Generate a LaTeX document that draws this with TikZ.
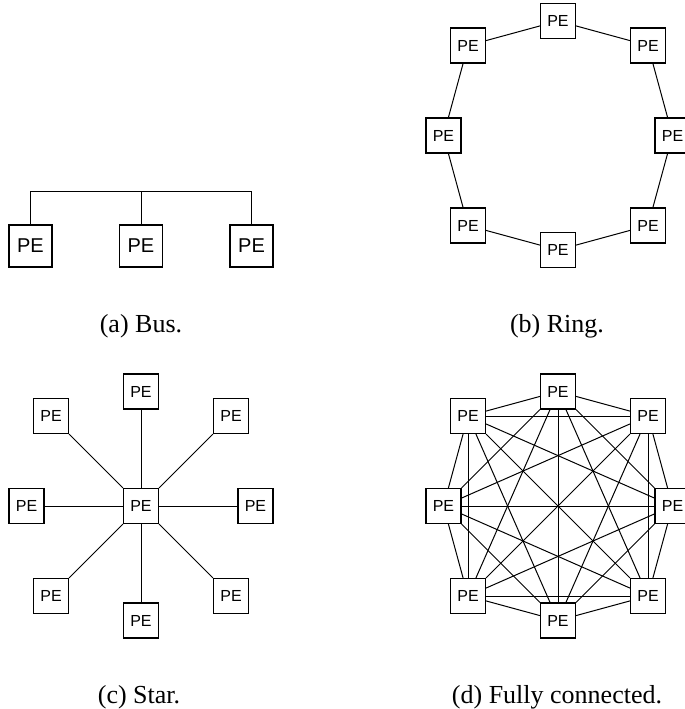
\documentclass[tikz,border=0pt]{standalone}
\usepackage{fontspec}
\setmainfont{Liberation Serif}
\newfontfamily\pefont{Liberation Sans}
\begin{document}
\begin{tikzpicture}[x=0.5pt,y=-0.5pt,
  pe/.style={draw, line width=0.6pt, minimum width=17.5pt, minimum height=17.5pt, inner sep=0pt, font=\pefont\fontsize{8}{9}\selectfont},
  bigpe/.style={draw, line width=0.6pt, minimum width=21.5pt, minimum height=21pt, inner sep=0pt, font=\pefont\fontsize{10}{12}\selectfont},
  link/.style={line width=0.5pt},
  captext/.style={inner sep=0pt, font=\fontsize{13}{15}\selectfont}
]
\useasboundingbox (0,0) rectangle (685,709);

% (a) Bus
\node[bigpe] (b1) at (30.5,246) {PE};
\node[bigpe] (b2) at (141,246) {PE};
\node[bigpe] (b3) at (251.5,246) {PE};
\coordinate (bl) at (30.5,191);
\coordinate (bm) at (141,191);
\coordinate (br) at (251.5,191);
\draw[link] (b1.north) -- (bl) -- (br) -- (b3.north);
\draw[link] (b2.north) -- (bm);
\node[captext] (ca) at (141,326) {(a) Bus.};

% (b) Ring
\foreach \i/\dx/\dy in {1/0/-114.5, 2/90/-90, 3/114.5/0, 4/90/90, 5/0/114.5, 6/-90/90, 7/-114.5/0, 8/-90/-90}{
  \node[pe] (r\i) at ({558+\dx},{135.5+\dy}) {PE};
}
\foreach \i in {1,...,8}{
  \pgfmathtruncatemacro\nxt{mod(\i,8)+1}
  \draw[link] (r\i) -- (r\nxt);
}
\node[captext] (cb) at (557,326) {(b) Ring.};

% (c) Star
\node[pe] (s0) at (141,506) {PE};
\foreach \i/\dx/\dy in {1/0/-114.5, 2/90/-90, 3/114.5/0, 4/90/90, 5/0/114.5, 6/-90/90, 7/-114.5/0, 8/-90/-90}{
  \node[pe] (s\i) at ({141+\dx},{506+\dy}) {PE};
  \draw[link] (s0) -- (s\i);
}
\node[captext] (cc) at (139,697) {(c) Star.};

% (d) Fully connected
\foreach \i/\dx/\dy in {1/0/-114.5, 2/90/-90, 3/114.5/0, 4/90/90, 5/0/114.5, 6/-90/90, 7/-114.5/0, 8/-90/-90}{
  \node[pe] (f\i) at ({558+\dx},{506+\dy}) {PE};
}
\foreach \i in {1,...,7}{
  \pgfmathtruncatemacro\nxt{\i+1}
  \foreach \j in {\nxt,...,8}{
    \draw[link] (f\i) -- (f\j);
  }
}
\node[captext] (cd) at (557,697) {(d) Fully connected.};
\end{tikzpicture}
\end{document}
